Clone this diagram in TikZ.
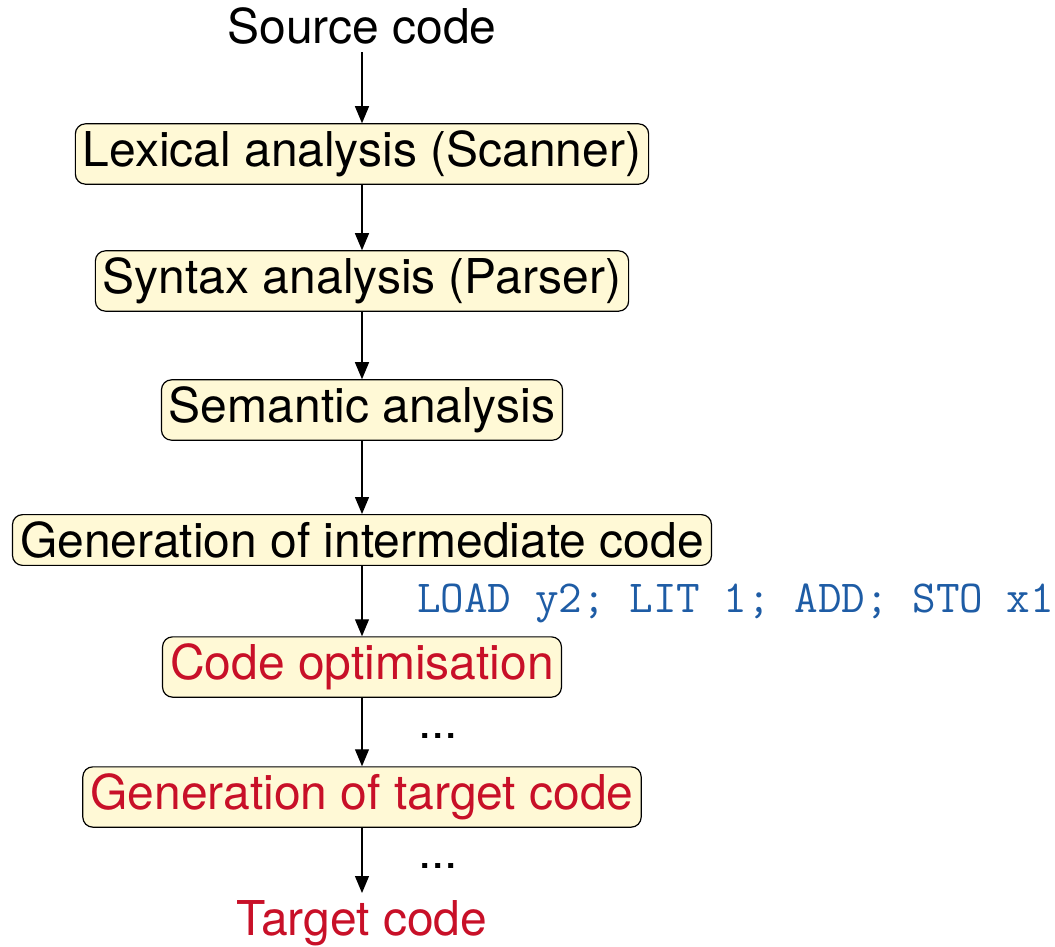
\documentclass[tikz,border=0pt]{standalone}
\usepackage{fontspec}
\setmainfont{TeX Gyre Heros}
\usetikzlibrary{arrows.meta}
\definecolor{boxfill}{RGB}{255,249,214}
\definecolor{myred}{RGB}{200,16,40}
\definecolor{myblue}{RGB}{30,92,165}
\begin{document}
\begin{tikzpicture}[x=1pt,y=-1pt,
  phase/.style={draw=black, line width=1.2pt, fill=boxfill, rounded corners=10pt,
    inner xsep=7.5pt, inner ysep=7pt, font=\fontsize{48}{58}\selectfont},
  plain/.style={inner sep=0pt, font=\fontsize{48}{58}\selectfont},
  flow/.style={line width=1.2pt, -{Triangle[width=14pt,length=17pt]}}]
\useasboundingbox (0,0) rectangle (1055,946);
\node[plain, anchor=base] (src) at (362,43) {Source code};
\node[phase] (lex) at (362,154) {Lexical analysis (Scanner)};
\node[phase] (syn) at (362,281) {Syntax analysis (Parser)};
\node[phase] (sem) at (362,410) {Semantic analysis};
\node[phase] (gen) at (362,540) {Generation of intermediate code};
\node[phase, text=myred] (opt) at (362,667) {Code optimisation};
\node[phase, text=myred] (tgt) at (362,797) {Generation of target code};
\node[plain, anchor=base, text=myred] (out) at (362,935) {Target code};
\node[inner sep=0pt, anchor=base west, text=myblue, font=\fontsize{45.8}{55}\ttfamily] (ic) at (417,612) {LOAD y2; LIT 1; ADD; STO x1};
\node[plain, anchor=base west] (d1) at (418,738) {...};
\node[plain, anchor=base west] (d2) at (418,868) {...};
\draw[flow] (src.south |- 0,52) -- (lex.north);
\draw[flow] (lex) -- (syn);
\draw[flow] (syn) -- (sem);
\draw[flow] (sem) -- (gen);
\draw[flow] (gen) -- (opt);
\draw[flow] (opt) -- (tgt);
\draw[flow] (tgt) -- (out.north |- 0,893);
\end{tikzpicture}
\end{document}
